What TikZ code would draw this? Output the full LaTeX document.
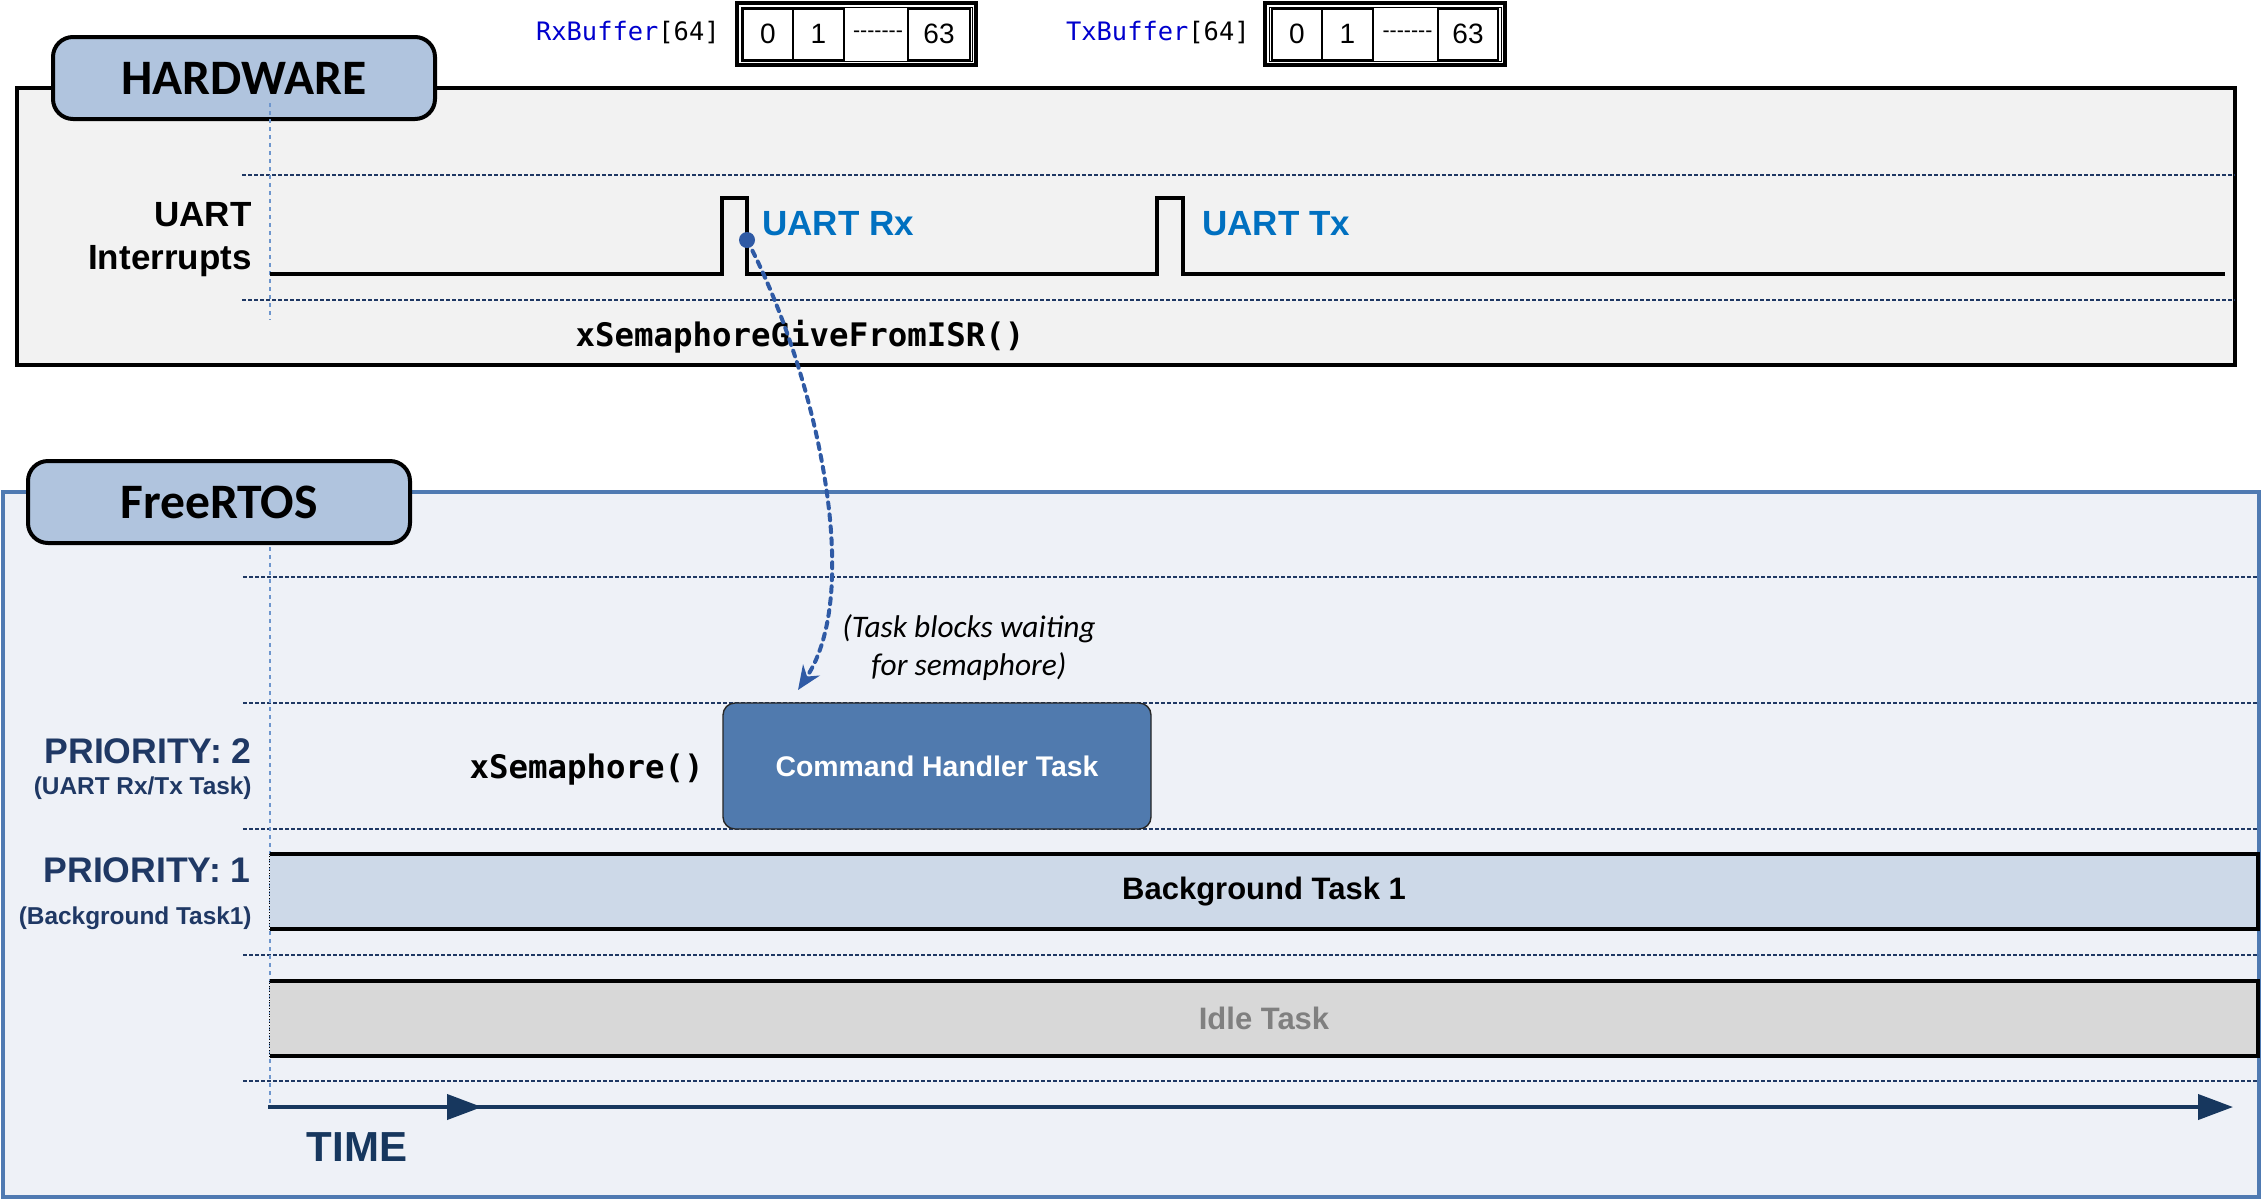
\documentclass[tikz,border=0pt]{standalone}
\usepackage{fontspec}
\setmainfont{Liberation Sans}
\setmonofont{DejaVu Sans Mono}
\newfontfamily\calibri{Carlito}
\usetikzlibrary{arrows.meta}
\definecolor{tabblue}{RGB}{176,196,222}
\definecolor{hwgray}{RGB}{242,242,242}
\definecolor{rtosfill}{RGB}{238,241,247}
\definecolor{rtosedge}{RGB}{79,122,178}
\definecolor{lvlnavy}{RGB}{31,56,100}
\definecolor{tlblue}{RGB}{110,150,205}
\definecolor{uartblue}{RGB}{0,112,192}
\definecolor{prionavy}{RGB}{31,56,100}
\definecolor{timenavy}{RGB}{23,55,94}
\definecolor{cmdblue}{RGB}{80,122,174}
\definecolor{bgblue}{RGB}{205,217,232}
\definecolor{idlegray}{RGB}{216,216,216}
\definecolor{semblue}{RGB}{47,90,165}
\definecolor{codeblue}{RGB}{0,0,205}
\newcommand{\hyphens}{\mbox{-}\mbox{-}\mbox{-}\mbox{-}\mbox{-}\mbox{-}\mbox{-}}
\begin{document}
\begin{tikzpicture}[x=0.5pt, y=-0.5pt,
        tab/.style={draw, line width=2pt, rounded corners=10pt, fill=tabblue,
            minimum width=191pt, minimum height=41pt,
            font=\calibri\bfseries\fontsize{24.8}{28}\selectfont},
        level/.style={draw=lvlnavy, line width=1.2pt, dash pattern=on 1.75pt off 1.25pt},
        tline/.style={draw=tlblue, line width=1pt, dash pattern=on 2pt off 2pt},
        cell/.style={draw, line width=1pt, minimum width=25pt, minimum height=25.5pt,
            inner sep=0pt, font=\fontsize{14}{16}\selectfont},
        buflabel/.style={anchor=east, inner sep=0pt, font=\ttfamily\fontsize{12.7}{15}\selectfont},
        prio/.style={anchor=east, inner sep=0pt, text=prionavy, font=\bfseries\fontsize{17.8}{20}\selectfont},
        priosub/.style={anchor=east, inner sep=0pt, text=prionavy, font=\bfseries\fontsize{12.2}{14}\selectfont},
        uart/.style={anchor=west, inner sep=0pt, text=uartblue, font=\bfseries\fontsize{17.5}{20}\selectfont},
        code/.style={inner sep=0pt, font=\ttfamily\bfseries\fontsize{16.2}{19}\selectfont},
        bar/.style={minimum width=994pt, minimum height=37.5pt, inner sep=0pt,
            font=\bfseries\fontsize{15.5}{18}\selectfont},
        barline/.style={line width=2pt},
        signal/.style={line width=2pt},
        timeline/.style={draw=timenavy, line width=2pt, -{Triangle[length=17.5pt, width=12.5pt]}}
    ]
        \useasboundingbox (0,0) rectangle (2262,1200);

        % Buffers
        \node[buflabel] (rxlabel) at (720,33) {\textcolor{codeblue}{RxBuffer}[64]};
        \draw[line width=1.6pt] (737,3) rectangle (976,65);
        \draw[line width=0.5pt] (741,7) rectangle (972,61);
        \node[cell] (rx0) at (768,34) {0};
        \node[cell, minimum width=25.5pt] (rx1) at (818.5,34) {1};
        \node[inner sep=0pt, font=\fontsize{10.7}{12}\selectfont] (rxdots) at (878,34) {\hyphens};
        \node[cell, minimum width=31pt] (rx63) at (939,34) {63};

        \node[buflabel] (txlabel) at (1250,33) {\textcolor{codeblue}{TxBuffer}[64]};
        \draw[line width=1.6pt] (1265,3) rectangle (1505,65);
        \draw[line width=0.5pt] (1269,7) rectangle (1501,61);
        \node[cell] (tx0) at (1297,34) {0};
        \node[cell, minimum width=25.5pt] (tx1) at (1347.5,34) {1};
        \node[inner sep=0pt, font=\fontsize{10.7}{12}\selectfont] (txdots) at (1407.5,34) {\hyphens};
        \node[cell, minimum width=30pt] (tx63) at (1468,34) {63};

        % Hardware
        \draw[line width=1.7pt, fill=hwgray] (17,88) rectangle (2235,365);
        \foreach \y in {175,300}
            \draw[level] (242,\y) -- (2235,\y);
        \node[tab] (hwtab) at (244,78) {HARDWARE};
        \draw[tline] (270,103) -- (270,320);

        \node[anchor=east, inner sep=0pt, align=right, font=\bfseries\fontsize{17.5}{21.5}\selectfont]
            (uartlbl) at (252,240) {UART\\Interrupts};
        \draw[signal] (270,274) -- (722,274) -- (722,198) -- (747,198) -- (747,274)
            -- (1157,274) -- (1157,198) -- (1183,198) -- (1183,274) -- (2225,274);
        \node[uart] (rxname) at (762,224) {UART Rx};
        \node[uart] (txname) at (1202,224) {UART Tx};
        \node[code] (isrcall) at (800,337) {xSemaphoreGiveFromISR()};
        \coordinate (rxdot) at (747,240);

        % FreeRTOS
        \draw[line width=1.6pt, draw=rtosedge, fill=rtosfill] (3,492) rectangle (2259,1197);
        \foreach \y in {577,703,829,955,1081}
            \draw[level] (243,\y) -- (2258,\y);
        \node[tab] (rtostab) at (219,502) {FreeRTOS};
        \draw[tline] (270,547) -- (270,1107);

        \node[prio] (prio2) at (252,751) {PRIORITY: 2};
        \node[priosub] (prio2sub) at (252,788) {(UART Rx/Tx Task)};
        \node[prio] (prio1) at (251,870) {PRIORITY: 1};
        \node[priosub] (prio1sub) at (252,918) {(Background Task1)};

        \node[code, anchor=east] (semcall) at (704,770) {xSemaphore()};
        \node[draw=black!85, line width=0.7pt, fill=cmdblue, rounded corners=6pt,
            minimum width=214pt, minimum height=63pt, text=white,
            font=\bfseries\fontsize{14.2}{17}\selectfont] (cmdtask) at (937,766) {Command Handler Task};
        \node[align=center, inner sep=0pt, font=\calibri\itshape\fontsize{15.7}{19}\selectfont]
            (blocknote) at (969,648) {(Task blocks waiting\\for semaphore)};

        \node[bar, fill=bgblue] (bgtask) at (1264,891.5) {Background Task 1};
        \draw[barline] (bgtask.north west) -- (bgtask.north east) -- (bgtask.south east) -- (bgtask.south west);
        \draw[densely dotted] (bgtask.south west) -- (bgtask.north west);
        \node[bar, fill=idlegray, text=black!50] (idletask) at (1264,1018.5) {Idle Task};
        \draw[barline] (idletask.north west) -- (idletask.north east) -- (idletask.south east) -- (idletask.south west);
        \draw[densely dotted] (idletask.south west) -- (idletask.north west);

        % Semaphore give
        \coordinate (semtip) at (798,690);
        \fill[semblue] (rxdot) circle (4pt);
        \draw[semblue, line width=2pt, dash pattern=on 3pt off 3pt, line cap=round,
            -{Stealth[length=12pt, width=10pt]}]
            (rxdot) .. controls (815,370) and (865,590) .. (semtip);

        % Time axis
        \coordinate (t0) at (268,1107);
        \coordinate (tmid) at (482,1107);
        \coordinate (tend) at (2233,1107);
        \draw[timeline] (t0) -- (tend);
        \draw[timeline] (t0) -- (tmid);
        \node[text=timenavy, font=\bfseries\fontsize{21}{25}\selectfont] (timelbl) at (357,1147) {TIME};
    \end{tikzpicture}
\end{document}
